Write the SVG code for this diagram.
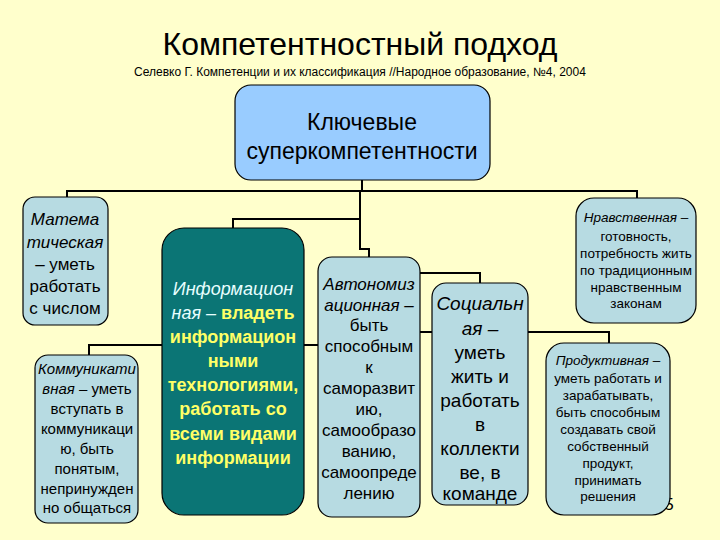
<svg xmlns="http://www.w3.org/2000/svg" width="720" height="540" viewBox="0 0 720 540">
<style>
text{font-family:"Liberation Sans",Arial,sans-serif;fill:#000;text-anchor:middle}
.box{fill:#B7DBE2;stroke:#000;stroke-width:1.2}
.top{fill:#99CCFF;stroke:#000;stroke-width:1.2}
.teal{fill:#0B7575;stroke:#000;stroke-width:1.2}
.c{fill:none;stroke:#000;stroke-width:2}
.i{font-style:italic}
.w{fill:#E8FFFF;font-style:italic}
.y{fill:#FFFF66;font-weight:bold}
</style>
<rect width="720" height="540" fill="#FFFFCC"/>
<g id="title">
<text x="360" y="55" font-size="32">Компетентностный подход</text>
<text x="360" y="76" font-size="12">Селевко Г. Компетенции и их классификация //Народное образование, №4, 2004</text>
</g>
<g id="connectors">
<path class="c" d="M362 180 V191 M67 197 V191 H637 V198"/>
<path class="c" d="M360 191 V219 H233 V228 M360 219 V249 H369 V258"/>
<path class="c" d="M89 355 V345 H318"/>
<path class="c" d="M420 273 H480 V283"/>
<path class="c" d="M420 332 H609 V343"/>
</g>
<text x="669" y="510" font-size="17">5</text>
<g id="n-key">
<rect class="top" x="235" y="85" width="255" height="95" rx="16"/>
<text x="362" y="130" font-size="23">Ключевые</text>
<text x="362" y="159" font-size="23">суперкомпетентности</text>
</g>
<g id="n-math" font-size="17">
<rect class="box" x="23" y="197" width="85" height="128" rx="12"/>
<text x="65" y="225" class="i">Матема</text>
<text x="65" y="248" class="i">тическая</text>
<text x="65" y="270">– уметь</text>
<text x="65" y="292">работать</text>
<text x="65" y="314">с числом</text>
</g>
<g id="n-comm" font-size="15">
<rect class="box" x="35" y="355" width="103" height="168" rx="13"/>
<text x="87" y="374" class="i">Коммуникати</text>
<text x="87" y="394"><tspan class="i">вная</tspan> – уметь</text>
<text x="87" y="414">вступать в</text>
<text x="87" y="434">коммуникаци</text>
<text x="87" y="454">ю, быть</text>
<text x="87" y="474">понятым,</text>
<text x="87" y="494">непринужден</text>
<text x="87" y="513">но общаться</text>
</g>
<g id="n-info" font-size="18">
<rect class="teal" x="162" y="228" width="142" height="287" rx="22"/>
<text x="233" y="295" class="w">Информацион</text>
<text x="233" y="319"><tspan class="w">ная –</tspan><tspan class="y"> владеть</tspan></text>
<text x="233" y="343" class="y">информацион</text>
<text x="233" y="367" class="y">ными</text>
<text x="233" y="391" class="y">технологиями,</text>
<text x="233" y="415" class="y">работать со</text>
<text x="233" y="440" class="y">всеми видами</text>
<text x="233" y="464" class="y">информации</text>
</g>
<g id="n-auto" font-size="17">
<rect class="box" x="318" y="257" width="102" height="260" rx="14"/>
<text x="369" y="290" class="i">Автономиз</text>
<text x="369" y="311" class="i">ационная –</text>
<text x="369" y="331">быть</text>
<text x="369" y="352">способным</text>
<text x="369" y="373">к</text>
<text x="369" y="394">саморазвит</text>
<text x="369" y="415">ию,</text>
<text x="369" y="436">самообразо</text>
<text x="369" y="457">ванию,</text>
<text x="369" y="478">самоопреде</text>
<text x="369" y="499">лению</text>
</g>
<g id="n-soc" font-size="19">
<rect class="box" x="432" y="283" width="96" height="222" rx="14"/>
<text x="480" y="310" class="i">Социальн</text>
<text x="480" y="335" class="i">ая –</text>
<text x="480" y="359">уметь</text>
<text x="480" y="383">жить и</text>
<text x="480" y="407">работать</text>
<text x="480" y="431">в</text>
<text x="480" y="455">коллекти</text>
<text x="480" y="479">ве, в</text>
<text x="480" y="500">команде</text>
</g>
<g id="n-moral" font-size="13.5">
<rect class="box" x="576" y="198" width="120" height="125" rx="18"/>
<text x="636" y="222"><tspan class="i">Нравственная</tspan> –</text>
<text x="636" y="241">готовность,</text>
<text x="636" y="258">потребность жить</text>
<text x="636" y="275">по традиционным</text>
<text x="636" y="292">нравственным</text>
<text x="636" y="308">законам</text>
</g>
<g id="n-prod" font-size="13.5">
<rect class="box" x="546" y="343" width="124" height="172" rx="18"/>
<text x="608" y="365"><tspan class="i">Продуктивная</tspan> –</text>
<text x="608" y="383">уметь работать и</text>
<text x="608" y="400">зарабатывать,</text>
<text x="608" y="417">быть способным</text>
<text x="608" y="434">создавать свой</text>
<text x="608" y="451">собственный</text>
<text x="608" y="468">продукт,</text>
<text x="608" y="485">принимать</text>
<text x="608" y="501">решения</text>
</g>
</svg>
